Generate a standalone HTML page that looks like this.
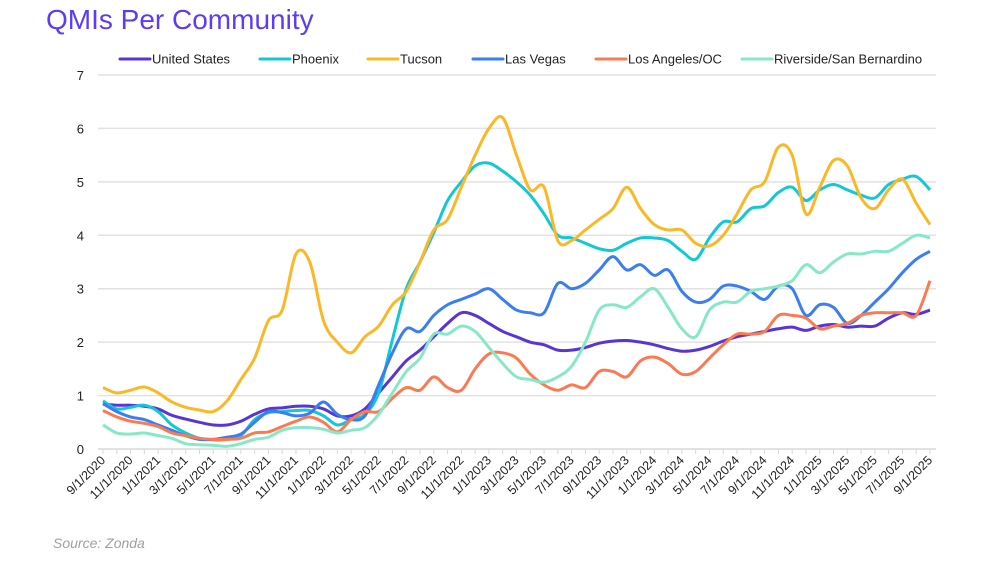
<!DOCTYPE html>
<html><head><meta charset="utf-8"><style>
body{margin:0;background:#fff;width:1000px;height:562px;overflow:hidden;font-family:"Liberation Sans",sans-serif}
</style></head><body>
<svg id="chart" width="1000" height="562" xmlns="http://www.w3.org/2000/svg">
<text x="46" y="29" font-size="28" fill="#5b3df5" font-family="Liberation Sans, sans-serif">QMIs Per Community</text>
<text x="53" y="548" font-size="14" font-style="italic" fill="#a0a0a0">Source: Zonda</text>
<g id="grid"></g><g id="xaxis"></g><g id="series"></g><g id="legend"></g>
</svg>
<script>
const seriesNames=["United States","Phoenix","Tucson","Las Vegas","Los Angeles/OC","Riverside/San Bernardino"];
const seriesColors=["#5a35d6","#12c8d6","#fbb826","#3a7ef2","#fb7a52","#86e8c7"];
const yTicks=[0,1,2,3,4,5,6,7];
const usValues=[0.84,0.82,0.82,0.8,0.75,0.63,0.56,0.5,0.45,0.45,0.52,0.65,0.75,0.77,0.8,0.8,0.75,0.62,0.62,0.75,1.05,1.35,1.65,1.85,2.1,2.35,2.55,2.5,2.35,2.2,2.1,2.0,1.95,1.85,1.85,1.9,1.98,2.02,2.03,2.0,1.95,1.88,1.83,1.85,1.92,2.02,2.1,2.15,2.2,2.25,2.28,2.22,2.3,2.33,2.28,2.3,2.3,2.45,2.55,2.52,2.6];
const phoenixValues=[0.9,0.75,0.78,0.82,0.7,0.45,0.3,0.2,0.17,0.18,0.25,0.55,0.68,0.7,0.72,0.72,0.62,0.45,0.55,0.65,1.05,2.05,3.0,3.5,4.05,4.65,5.0,5.3,5.35,5.2,5.0,4.75,4.4,4.0,3.95,3.85,3.75,3.72,3.85,3.95,3.95,3.9,3.7,3.55,3.95,4.25,4.25,4.5,4.55,4.8,4.9,4.65,4.85,4.95,4.85,4.75,4.7,4.95,5.05,5.1,4.85];
const tucsonValues=[1.15,1.05,1.1,1.16,1.05,0.88,0.78,0.73,0.7,0.9,1.3,1.7,2.4,2.6,3.65,3.5,2.4,2.0,1.8,2.1,2.3,2.7,2.95,3.5,4.1,4.3,4.9,5.5,6.0,6.2,5.5,4.85,4.9,3.9,3.9,4.1,4.3,4.5,4.9,4.5,4.2,4.1,4.1,3.85,3.8,4.0,4.4,4.85,5.0,5.65,5.5,4.4,4.9,5.4,5.3,4.7,4.5,4.85,5.05,4.6,4.2];
const lasVegasValues=[0.85,0.7,0.6,0.55,0.45,0.35,0.25,0.18,0.18,0.22,0.28,0.5,0.7,0.68,0.62,0.67,0.88,0.65,0.55,0.62,1.2,1.8,2.25,2.2,2.5,2.7,2.8,2.9,3.0,2.8,2.6,2.55,2.55,3.1,3.0,3.1,3.35,3.6,3.35,3.45,3.25,3.35,2.95,2.75,2.8,3.05,3.05,2.95,2.8,3.05,3.0,2.5,2.7,2.65,2.35,2.5,2.75,3.0,3.3,3.55,3.7];
const laValues=[0.72,0.6,0.52,0.48,0.42,0.3,0.25,0.2,0.18,0.18,0.2,0.3,0.32,0.42,0.52,0.6,0.5,0.32,0.55,0.7,0.7,0.95,1.15,1.1,1.35,1.15,1.1,1.5,1.78,1.8,1.7,1.4,1.2,1.1,1.2,1.15,1.45,1.45,1.35,1.65,1.72,1.6,1.4,1.45,1.7,1.95,2.15,2.15,2.2,2.5,2.5,2.45,2.25,2.3,2.35,2.5,2.55,2.55,2.55,2.5,3.15];
const riversideValues=[0.45,0.3,0.28,0.3,0.25,0.2,0.1,0.08,0.07,0.05,0.1,0.18,0.22,0.35,0.4,0.4,0.37,0.3,0.35,0.4,0.65,1.05,1.45,1.7,2.15,2.15,2.3,2.2,1.9,1.6,1.35,1.3,1.25,1.35,1.55,2.0,2.6,2.7,2.65,2.85,3.0,2.65,2.25,2.1,2.6,2.75,2.75,2.95,3.0,3.05,3.15,3.45,3.3,3.5,3.65,3.65,3.7,3.7,3.85,4.0,3.95];
const allSeries=[usValues,phoenixValues,tucsonValues,lasVegasValues,laValues,riversideValues];
const startYear=2020, startMonth=9, nMonths=61;

const NS="http://www.w3.org/2000/svg";
const X0=103,X1=930,Y0=449,YTOP=75;
const xs=i=>X0+(X1-X0)*i/(nMonths-1);
const ys=v=>Y0-(Y0-YTOP)*v/7;
function mk(tag,attrs,parent){const e=document.createElementNS(NS,tag);for(const k in attrs)e.setAttribute(k,attrs[k]);parent.appendChild(e);return e;}
const grid=document.getElementById('grid');
yTicks.forEach(t=>{
  if(t>0){const l=mk('line',{x1:98,x2:936,y1:ys(t),y2:ys(t),stroke:'#e2e2e2','stroke-width':1.5},grid);
  
  }
  const tx=mk('text',{x:84,y:ys(t)+5,'font-size':13,fill:'#222','text-anchor':'end'},grid);
  tx.textContent=t;
  
  
});
const xa=document.getElementById('xaxis');
const ax=mk('line',{x1:98,x2:936,y1:Y0,y2:Y0,stroke:'#d8d8d8','stroke-width':1.5},xa);


for(let i=0;i<nMonths;i++){
  const x=xs(i);
  mk('line',{x1:x,x2:x,y1:Y0,y2:Y0+5,stroke:'#d8d8d8'},xa);
  if(i%2===0){
    const m=(startMonth-1+i)%12+1, y=startYear+Math.floor((startMonth-1+i)/12);
    const t=mk('text',{x:x+3,y:Y0+12,'font-size':12.5,fill:'#222','text-anchor':'end',transform:`rotate(-45 ${x+3} ${Y0+12})`},xa);
    t.textContent=`${m}/1/${y}`;
    
    
  }
}
function smooth(pts){let d=`M${pts[0][0]},${pts[0][1]}`;
  for(let i=0;i<pts.length-1;i++){const p0=pts[i-1]||pts[i],p1=pts[i],p2=pts[i+1],p3=pts[i+2]||p2;
    d+=` C${p1[0]+(p2[0]-p0[0])/6},${p1[1]+(p2[1]-p0[1])/6} ${p2[0]-(p3[0]-p1[0])/6},${p2[1]-(p3[1]-p1[1])/6} ${p2[0]},${p2[1]}`;}
  return d;}
const sg=document.getElementById('series');
allSeries.forEach((vals,k)=>{
  const p=mk('path',{d:smooth(vals.map((v,i)=>[xs(i),ys(v)])),fill:'none',stroke:seriesColors[k],'stroke-width':3,'stroke-linejoin':'round'},sg);
  
  
});
const legX=[120,260,368,473,596,742];
const lg=document.getElementById('legend');
seriesNames.forEach((n,k)=>{
  const g=mk('g',{},lg);
  
  
  mk('line',{x1:legX[k],x2:legX[k]+30,y1:59,y2:59,stroke:seriesColors[k],'stroke-width':3,'stroke-linecap':'round'},g);
  const t=mk('text',{x:legX[k]+32,y:63.5,'font-size':13,fill:'#222'},g);t.textContent=n;
});
</script>
</body></html>
